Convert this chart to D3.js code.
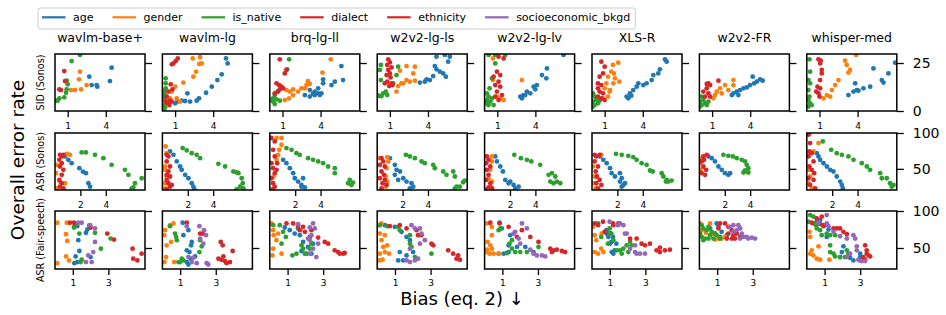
<!DOCTYPE html>
<meta charset="utf-8">
<script src="https://d3js.org/d3.v7.min.js"></script>
<style>
  body { margin: 0; background: #fff; }
  text { font-family: "DejaVu Sans", sans-serif; }
</style>
<div id="chart"></div>
<script>

// panel titles, row labels, legend
var models = ["wavlm-base+", "wavlm-lg", "brq-lg-ll", "w2v2-lg-ls", "w2v2-lg-lv", "XLS-R", "w2v2-FR", "whisper-med"];
var rowNames = ["SID (Sonos)", "ASR (Sonos)", "ASR (Fair-speech)"];
var legendKeys = ["age", "gender", "is_native", "dialect", "ethnicity", "socioeconomic_bkgd"];
var colors = {age: "#1f77b4", gender: "#ff7f0e", is_native: "#2ca02c", dialect: "#d62728", ethnicity: "#d62728", socioeconomic_bkgd: "#9467bd"};

// axis ticks / limits per row
var xTicks = [[1, 4], [2, 4], [1, 3]];
var yTicks = [[0, 25], [50, 100], [50, 100]];
var xMax = [7.09, 7.09, 5.06];
var yLims = [[0, 29.7], [20.5, 100], [21.6, 100]];

// ---- SID (Sonos): one list of [bias, error] per model ----
var sidAge = [
  [[4.46,22.6],[4.33,15.6],[2.7,17.9],[3.28,13.5],[3.33,12.7],[2.89,13.5]],
  [[5.01,27.4],[5.14,24.8],[4.67,19.1],[4.33,16.1],[3.89,12.7],[3.44,9.5],[2.89,6.6],[2.7,5.4],[1.97,9.2],[1.52,5.4],[1.79,5.2],[2.18,4.9],[1.0,4.0],[1.18,4.9]],
  [[3.15,10.9],[3.54,8.3],[3.81,9.2],[5.64,23.4],[5.77,16.1],[5.12,15.3],[4.86,13.5],[4.2,16.5],[4.2,14.4],[3.81,11.8],[3.54,10.1],[3.15,7.5],[3.94,8.3],[4.07,9.2],[2.76,8.3],[3.4,9.0]],
  [[5.72,28.3],[5.59,25.7],[5.33,29.2],[4.67,28.3],[4.54,23.4],[4.67,21.7],[4.41,18.2],[4.15,16.1],[3.75,15.3],[3.36,14.8],[3.89,16.5],[4.94,20.5],[5.2,19.6],[5.41,17.9]],
  [[4.91,22.2],[4.86,17.0],[4.52,18.7],[4.12,13.5],[3.99,11.3],[3.86,12.7],[3.33,10.1],[3.07,8.3],[2.81,7.5],[2.94,6.6],[3.2,8.3],[3.6,9.2],[6.22,29.2]],
  [[5.75,26.9],[5.88,25.7],[5.35,21.7],[5.22,19.6],[4.83,18.7],[4.7,16.1],[4.3,14.4],[4.04,13.5],[3.65,14.4],[3.52,12.7],[3.25,10.9],[2.99,9.2],[2.73,7.5],[2.86,6.6],[3.1,8.0]],
  [[4.2,17.9],[4.78,16.5],[4.99,15.8],[4.52,15.3],[4.31,14.4],[3.99,13.5],[3.73,12.3],[3.47,11.8],[3.2,10.9],[2.94,10.1],[2.68,9.2],[2.55,8.3],[3.07,8.3]],
  [[6.96,25.2],[6.43,19.6],[5.91,16.1],[6.04,14.8],[5.25,22.2],[4.99,12.7],[4.46,11.8],[3.94,10.9],[3.68,10.1],[3.28,8.3],[3.81,14.4],[4.07,10.6]]
];
var sidGender = [
  [[1.97,20.5],[1.89,16.5],[2.49,13.5],[2.05,11.3],[1.57,10.9],[1.26,10.9]],
  [[2.39,27.4],[2.97,28.0],[3.1,24.8],[2.91,24.5],[2.65,20.5],[2.44,17.9],[1.65,14.8],[1.0,12.7],[0.74,10.1],[1.13,6.6],[1.39,4.9],[0.6,6.6]],
  [[1.31,10.9],[1.58,10.1],[1.84,11.3],[2.23,10.1],[2.49,11.8],[2.89,13.5],[1.84,8.3],[1.52,6.6],[1.18,5.7],[2.76,11.8],[3.15,14.1],[4.15,20.0],[4.8,26.9],[3.0,15.5]],
  [[2.31,23.4],[1.79,21.0],[2.97,23.1],[2.84,19.6],[2.57,15.3],[2.31,16.1],[2.97,15.8],[1.92,14.4],[1.65,13.0],[1.52,10.1],[2.05,14.4]],
  [[0.66,27.4],[0.66,16.1],[0.97,7.5],[1.23,6.6],[1.5,5.7],[2.94,16.1]],
  [[1.65,24.0],[1.52,20.5],[1.26,17.9],[1.13,14.4],[1.0,11.8],[1.39,10.1],[1.26,7.5],[0.87,6.6],[2.07,25.2],[1.73,19.6],[1.81,17.0],[1.68,14.4],[2.15,15.3],[1.42,10.9]],
  [[2.68,16.1],[2.68,13.5],[2.02,13.5],[1.63,11.8],[1.37,10.1],[2.28,10.9],[1.76,9.2],[1.23,8.3],[1.1,6.6]],
  [[3.02,26.2],[3.15,24.0],[3.41,21.4],[3.28,20.0],[2.49,16.1],[2.23,13.5],[1.97,10.9],[1.58,8.3],[1.31,6.6],[1.84,7.5],[3.89,29.2]]
];
var sidNative = [
  [[1.97,29.2],[1.31,26.0],[0.92,15.8],[1.0,13.9],[0.92,11.3],[0.87,9.5],[0.73,7.1],[0.34,6.6],[0.21,5.4],[0.08,5.4]],
  [[0.26,17.0],[0.26,14.4],[0.26,11.8],[0.13,10.1],[0.21,8.3],[0.13,6.6],[0.26,5.4],[0.13,3.1],[0.21,1.9],[0.13,0.9]],
  [[1.52,26.9],[1.37,21.7],[0.6,10.1],[0.39,8.3],[0.26,6.6],[0.13,5.7],[0.26,4.9],[0.53,6.1],[0.79,5.4],[0.39,3.6]],
  [[0.29,24.0],[0.21,21.4],[0.29,16.1],[1.52,18.7],[1.65,23.1],[1.26,14.4],[0.68,10.1],[0.47,9.2],[0.21,7.8],[0.34,7.8],[0.79,8.3],[0.03,8.3]],
  [[0.31,29.2],[0.84,29.2],[1.63,29.2],[0.84,24.8],[0.58,17.0],[0.39,11.8],[0.18,9.2],[0.31,7.5],[0.18,5.7],[0.45,4.9],[0.31,3.1],[0.71,3.1],[0.58,6.6],[0.13,4.0]],
  [[0.08,9.2],[0.21,7.5],[0.34,5.7],[0.08,4.9],[0.21,3.1],[0.47,4.0],[0.08,2.3],[0.6,5.4]],
  [[0.18,7.5],[0.31,5.7],[0.05,4.9],[0.45,4.0],[0.18,3.1],[0.58,3.1],[0.05,2.3],[0.71,4.9]],
  [[0.21,26.9],[0.26,20.5],[0.13,16.1],[0.26,14.4],[0.13,10.9],[0.21,7.5],[0.13,5.7],[0.26,4.0],[0.39,3.1],[0.13,2.3]]
];
var sidDialect = [
  [[0.73,20.8],[0.79,15.6],[0.34,11.3],[0.47,10.9]],
  [[1.21,27.4],[1.05,26.0],[0.87,24.8],[0.74,24.3],[0.66,13.9],[0.79,11.3],[0.47,10.1],[0.34,7.5],[0.6,5.4],[0.26,4.9],[0.42,4.0],[0.55,3.1],[0.74,4.9]],
  [[0.79,26.9],[1.18,19.6],[1.31,21.4],[0.53,14.4],[0.74,13.5],[0.92,12.7],[0.79,11.3],[0.66,10.1],[1.05,11.8],[0.39,9.2]],
  [[0.87,26.9],[1.0,25.3],[0.79,24.0],[1.13,22.7],[0.87,21.4],[1.0,19.6],[0.74,18.7],[1.05,17.5],[0.79,15.3],[1.13,14.4],[0.6,14.4],[0.95,13.0],[1.21,13.5]],
  [[1.1,28.3],[1.5,27.4],[0.97,20.5],[1.23,18.7],[0.71,17.9],[1.1,15.3],[0.84,13.5],[1.23,12.7],[0.97,10.1],[1.37,8.3],[0.84,7.5],[1.1,5.7]],
  [[0.74,25.7],[1.0,23.1],[0.87,19.6],[0.6,17.9],[0.47,14.4],[0.74,13.5],[0.47,11.8],[0.6,10.1],[0.87,9.2],[0.47,7.5],[0.74,6.6],[1.0,5.7]],
  [[0.71,14.4],[0.84,13.5],[1.5,15.8],[0.58,11.8],[0.31,10.1],[0.71,9.2],[0.45,7.5],[0.84,7.5],[0.58,14.1]],
  [[0.92,26.9],[1.1,26.2],[1.05,24.8],[1.18,21.4],[1.18,19.6],[1.05,16.1],[0.84,12.7],[1.05,11.8],[0.74,10.1],[0.92,9.2],[1.0,7.5]]
];

// ---- ASR (Sonos) ----
var asrAge = [
  [[0.79,67.3],[1.05,62.6],[1.31,57.9],[1.92,50.9],[2.44,43.9],[2.63,29.9],[2.76,25.2],[2.2,46.0]],
  [[0.6,74.3],[0.87,69.6],[1.13,60.3],[1.39,53.3],[1.52,48.6],[1.79,41.6],[2.05,36.9],[2.31,29.9],[2.44,25.2],[2.52,21.5]],
  [[1.05,62.6],[1.31,57.9],[1.58,50.9],[1.84,43.9],[1.97,36.9],[2.23,32.3],[2.49,27.6],[2.76,24.3],[2.62,36.9],[2.49,25.2]],
  [[1.0,64.9],[1.39,55.6],[1.52,48.6],[1.79,46.3],[1.39,41.6],[1.65,34.6],[2.05,36.9],[2.31,32.3],[2.7,29.9],[2.84,25.2],[2.57,22.9]],
  [[0.84,67.3],[0.97,60.3],[1.23,53.3],[1.44,46.3],[1.63,34.6],[1.89,29.9],[2.28,27.6],[2.68,25.2],[2.42,22.9],[2.02,32.3]],
  [[0.63,67.3],[0.89,62.6],[1.16,57.9],[1.42,50.9],[1.55,43.9],[1.81,39.3],[2.2,43.9],[2.34,36.9],[2.2,32.3],[2.47,27.6],[2.34,25.2],[2.6,29.9]],
  [[0.71,67.3],[0.97,64.9],[1.23,60.3],[1.5,53.3],[1.76,48.6],[2.02,43.9],[2.28,41.6],[2.42,43.9]],
  [[0.79,71.9],[0.92,67.3],[1.05,62.6],[1.31,57.9],[1.58,53.3],[1.84,48.6],[2.1,46.3],[2.36,39.3],[2.63,32.3],[2.76,27.6],[2.84,22.9]]
];
var asrGender = [
  [[0.92,71.0],[1.18,69.6],[0.13,55.6],[0.08,43.9],[0.39,32.3],[0.79,29.9],[0.13,22.9]],
  [[0.26,81.3],[0.34,71.9],[0.21,53.3],[0.21,48.6],[0.34,39.3],[0.21,29.9],[0.21,22.9]],
  [[0.53,93.0],[0.92,93.0],[0.92,83.6],[0.74,76.6],[0.66,69.6],[0.53,62.6],[0.31,39.3]],
  [[0.79,66.3],[0.87,60.3],[0.74,50.9],[0.68,39.3],[0.79,32.3],[0.68,25.2],[0.21,64.9]],
  [[0.58,67.3],[0.58,60.3],[0.45,48.6],[0.31,36.9],[0.58,32.3],[0.5,25.2]],
  [[0.08,53.3],[0.21,39.3],[0.08,29.9],[0.29,22.9],[0.74,69.6]],
  [[0.05,57.9],[0.1,48.6],[0.05,63.5]],
  [[0.21,99.0],[0.92,86.0],[0.13,71.9],[0.53,74.3],[0.13,48.6],[0.26,39.3],[0.13,29.9],[0.39,22.9]]
];
var asrNative = [
  [[2.1,72.9],[2.44,72.9],[3.15,69.6],[3.81,64.9],[4.46,55.6],[5.51,48.6],[5.78,41.6],[6.3,29.9],[6.17,24.3],[6.04,22.9],[6.83,36.9]],
  [[1.6,79.0],[1.92,75.7],[2.31,71.9],[2.7,69.6],[2.97,64.9],[4.41,57.0],[4.94,53.3],[5.59,46.3],[5.85,44.9],[5.99,43.9],[6.25,36.9],[6.33,29.9],[6.12,25.2],[6.38,22.9],[5.85,21.5]],
  [[1.31,79.0],[1.71,76.6],[2.1,71.9],[2.36,69.6],[3.02,64.9],[3.41,62.6],[3.81,60.3],[4.2,57.9],[4.59,53.3],[5.12,50.9],[5.12,43.9],[6.3,34.6],[6.17,29.9],[6.56,30.9],[6.43,27.6]],
  [[2.26,69.6],[2.57,67.3],[2.97,64.9],[3.49,60.3],[3.75,57.9],[4.41,55.6],[4.54,50.9],[5.2,46.3],[5.46,41.6],[5.99,46.3],[6.12,39.3],[6.9,33.6],[6.77,31.3],[6.25,25.2],[6.12,22.9],[6.51,25.2]],
  [[2.34,69.6],[2.86,64.9],[3.33,62.6],[3.68,60.3],[4.38,55.6],[5.04,41.6],[5.3,43.9],[5.57,39.3],[5.17,32.3],[5.7,32.3],[5.96,29.9],[5.43,29.9]],
  [[1.89,71.0],[2.34,69.6],[2.86,68.2],[3.25,66.3],[3.52,62.6],[3.91,57.9],[4.3,55.6],[4.57,47.7],[4.78,46.3],[5.49,43.9],[5.62,39.3],[5.88,34.6],[6.01,32.3],[6.27,33.6],[5.83,32.3]],
  [[1.89,69.6],[2.28,68.2],[2.63,67.3],[2.94,64.9],[3.33,62.6],[3.6,60.3],[3.73,55.6],[3.86,50.9],[3.73,46.3],[3.47,44.9],[3.86,44.9],[3.6,48.0]],
  [[0.13,99.0],[1.26,88.3],[1.92,76.6],[2.36,71.9],[2.76,69.6],[3.28,67.3],[3.68,62.6],[4.33,57.9],[4.73,53.3],[4.99,48.6],[5.78,43.9],[5.91,36.9],[6.3,36.9],[6.56,29.9],[6.69,25.2],[6.83,27.6]]
];
var asrDialect = [
  [[0.39,69.6],[0.53,67.3],[0.66,69.6],[0.34,62.6],[0.53,57.9],[0.39,53.3],[0.66,48.6],[0.53,41.6],[0.34,34.6],[0.53,29.9],[0.39,25.2],[0.66,22.9]],
  [[0.34,69.6],[0.47,67.3],[0.34,60.3],[0.6,53.3],[0.47,46.3],[0.34,41.6],[0.6,39.3],[0.34,34.6],[0.47,29.9],[0.6,25.2],[0.34,21.5],[0.74,27.6]],
  [[0.13,93.0],[0.39,88.3],[0.26,76.6],[0.39,67.3],[0.13,57.9],[0.26,50.9],[0.39,43.9],[0.13,36.9],[0.26,29.9],[0.39,25.2],[0.21,21.5],[0.53,48.6],[0.58,57.9]],
  [[0.34,64.9],[0.47,60.3],[0.21,55.6],[0.6,53.3],[0.34,46.3],[0.53,41.6],[0.21,36.9],[0.6,34.6],[0.42,29.9],[0.74,27.6],[0.34,22.9]],
  [[0.18,67.3],[0.31,62.6],[0.13,57.9],[0.45,53.3],[0.18,48.6],[0.31,41.6],[0.13,34.6],[0.45,29.9],[0.31,24.3],[0.58,22.9],[0.18,21.5]],
  [[0.21,69.6],[0.34,67.3],[0.6,69.6],[0.21,60.3],[0.47,53.3],[0.29,46.3],[0.39,39.3],[0.6,34.6],[0.34,29.9],[0.74,27.6],[0.47,22.9]],
  [[0.31,67.3],[0.58,69.6],[0.18,60.3],[0.31,53.3],[0.53,48.6],[0.18,43.9],[0.45,41.6],[0.37,62.6]],
  [[0.13,97.6],[0.26,86.0],[0.21,74.3],[0.39,71.9],[0.13,67.3],[0.53,60.3],[0.21,53.3],[0.39,48.6],[0.58,43.9],[0.13,36.9],[0.53,34.6],[0.26,27.6],[0.66,22.9]]
];

// ---- ASR (Fair-speech) ----
var fsAge = [
  [[1.25,79.5],[1.31,60.5],[1.37,45.9],[1.16,38.6],[1.09,29.5],[1.25,30.9],[1.82,75.0],[2.0,37.7],[1.74,70.5]],
  [[1.14,84.1],[1.46,74.1],[1.65,58.2],[1.61,53.6],[1.52,44.5],[1.37,46.8],[1.59,35.5],[1.37,30.9],[1.46,27.7],[1.84,38.6],[1.18,67.3]],
  [[0.84,77.7],[1.12,74.1],[1.4,69.5],[1.69,67.3],[1.59,76.4],[2.34,42.3],[2.15,51.4],[2.43,55.9],[1.87,58.2],[2.06,42.3],[1.78,45.9]],
  [[0.43,80.9],[0.99,78.6],[1.37,71.8],[1.65,65.0],[1.27,44.5],[1.18,33.2],[1.46,33.2],[1.65,40.0],[2.02,44.5],[1.84,60.5]],
  [[0.84,84.1],[0.97,76.4],[1.44,67.3],[1.35,53.6],[1.07,42.3],[1.35,44.5],[1.82,51.4],[2.29,51.4],[2.75,44.5],[0.79,42.3]],
  [[0.81,74.1],[1.18,65.0],[1.09,58.2],[1.37,55.9],[1.27,46.8],[0.82,69.5],[0.92,65.0],[1.01,55.9],[1.11,44.5],[1.2,42.3]],
  [[0.97,83.2],[1.07,78.6],[0.88,69.5],[1.25,71.8],[1.54,67.3],[1.16,65.0],[0.6,76.4]],
  [[0.75,87.7],[0.56,85.5],[0.94,80.9],[1.22,75.0],[1.12,65.0],[2.06,52.3],[1.97,44.5],[2.43,36.8],[2.62,33.2],[3.0,37.7],[3.0,42.3],[1.87,37.7]]
];
var fsGender = [
  [[0.13,84.1],[0.66,84.1],[0.62,68.6],[0.69,59.5],[0.62,38.6],[0.79,33.2],[0.13,29.5]],
  [[0.15,74.1],[0.11,67.3],[0.43,80.9],[0.62,83.2],[0.49,58.2],[0.24,53.6],[0.21,37.7],[0.11,30.9],[0.66,30.9]],
  [[0.09,83.2],[0.19,74.1],[0.22,67.3],[0.47,69.5],[0.37,60.5],[0.19,49.1],[0.15,40.0],[0.66,42.3]],
  [[0.11,80.9],[0.24,83.2],[0.15,69.5],[0.43,67.3],[0.24,60.5],[0.56,53.6],[0.34,51.4],[0.15,42.3],[0.11,33.2],[0.3,34.1],[0.43,44.5],[0.67,42.3]],
  [[0.13,83.2],[0.41,78.6],[0.41,67.3],[0.17,58.2],[0.32,53.6],[0.41,49.1],[0.13,44.5],[0.28,42.3],[0.51,42.3],[0.79,42.3],[0.13,47.7]],
  [[0.06,78.6],[0.15,67.3],[0.24,60.5],[0.15,44.5],[0.34,42.3],[0.52,49.1],[0.54,69.5],[0.64,44.5]],
  [[0.04,83.2],[0.6,83.2],[0.37,70.5],[0.75,69.5],[1.07,62.7],[1.25,62.7],[1.44,65.0],[0.88,61.4],[0.13,74.1]],
  [[0.15,71.8],[0.19,65.0],[0.66,52.3],[0.28,46.8],[0.19,42.3],[0.37,40.0],[0.56,35.5],[0.75,34.1],[1.27,34.1]]
];
var fsNative = [
  [[1.12,80.9],[1.07,77.7],[1.37,69.5],[2.25,70.5],[3.13,62.7],[2.58,49.1],[1.5,34.1],[1.44,30.9]],
  [[0.43,79.5],[0.71,69.5],[0.77,65.0],[0.81,60.5],[1.09,35.5],[0.99,30.9],[1.18,33.2],[2.08,44.5],[2.21,52.3],[2.12,60.5],[0.9,30.9]],
  [[0.19,80.9],[0.56,80.9],[0.75,71.8],[0.9,65.0],[0.66,55.9],[1.27,40.0],[1.5,42.3],[1.87,49.1],[1.97,42.3],[1.78,53.6],[2.34,55.9],[2.25,49.1]],
  [[0.15,80.9],[0.56,79.5],[1.18,78.6],[1.27,74.1],[1.84,55.9],[1.93,51.4],[2.12,37.7],[2.21,35.5],[3.05,42.3],[1.84,67.3]],
  [[0.79,74.1],[0.88,76.4],[1.4,55.9],[1.54,49.1],[1.72,44.5],[2.0,44.5],[2.38,44.5],[3.03,51.4],[1.25,43.2],[1.54,60.5]],
  [[0.34,83.2],[0.99,76.4],[1.09,69.5],[0.52,65.0],[0.9,55.9],[1.01,70.5],[1.2,60.5],[1.39,46.8],[1.57,46.8],[1.76,49.1],[1.95,53.6],[2.14,58.2],[2.23,53.6],[2.04,44.5],[1.67,42.3]],
  [[0.13,80.9],[0.22,76.4],[0.41,74.1],[0.04,69.5],[0.13,65.0],[0.32,62.7],[0.51,62.7],[0.6,67.3],[0.69,71.8],[0.51,78.6],[0.79,62.7],[0.97,67.3],[0.88,69.5],[0.22,60.5],[1.16,62.7]],
  [[0.19,94.5],[0.37,92.3],[0.09,85.5],[0.37,83.2],[0.56,76.4],[0.75,74.1],[0.84,67.3],[1.31,67.3],[1.59,67.3],[1.31,53.6],[1.31,44.5],[1.5,42.3],[1.87,37.7],[1.59,38.6],[2.15,37.7],[2.34,42.3],[2.25,46.8],[1.12,69.5],[0.52,80.9]]
];
var fsEthnicity = [
  [[0.84,84.1],[1.07,84.1],[1.93,80.5],[2.0,77.7],[2.94,69.5],[3.32,61.4],[4.36,49.1],[4.4,35.5],[4.63,33.2],[4.87,42.3]],
  [[1.37,84.1],[2.12,69.5],[2.27,69.5],[3.28,58.2],[3.39,53.6],[3.95,45.9],[3.15,35.5],[3.33,34.1],[3.52,32.3],[3.61,29.5],[3.8,30.9],[3.43,38.6]],
  [[0.94,83.2],[1.31,83.2],[1.59,80.9],[1.87,78.6],[1.97,71.8],[1.69,74.1],[2.34,74.1],[2.25,65.0],[2.72,64.1],[3.09,58.2],[3.28,55.9],[3.65,46.8],[3.84,44.5],[3.93,42.3],[4.12,42.3],[4.21,43.2]],
  [[0.71,79.5],[1.27,80.9],[1.65,76.4],[2.21,74.1],[2.3,67.3],[2.49,67.3],[3.05,55.9],[3.15,53.6],[3.99,46.8],[4.27,42.3],[4.55,40.0],[4.46,35.5],[4.65,34.1]],
  [[0.32,84.1],[0.84,83.2],[1.35,78.6],[1.82,65.0],[2.1,74.1],[2.57,65.0],[3.03,58.2],[3.69,49.1],[3.88,46.8],[4.06,47.7],[4.35,45.9],[4.53,44.5],[3.78,44.5]],
  [[0.15,83.2],[0.34,80.9],[0.62,85.5],[0.71,71.8],[1.18,83.2],[1.2,80.9],[1.48,83.2],[2.14,62.7],[2.51,62.7],[2.79,55.9],[2.98,53.6],[3.26,55.9],[3.63,46.8],[3.82,44.5],[4.1,46.8],[4.38,47.7],[3.82,50.5]],
  [[1.16,83.2],[1.44,83.2],[1.07,76.4],[1.63,78.6],[1.82,74.1],[1.63,69.5],[1.91,67.3],[2.1,69.5],[1.54,62.7],[1.82,62.7],[2.0,62.7],[2.29,65.0]],
  [[0.56,90.0],[0.84,92.3],[0.28,84.1],[0.75,82.3],[0.94,79.5],[1.5,76.4],[1.69,76.4],[1.87,76.4],[2.06,71.8],[2.25,68.6],[3.28,53.6],[3.37,46.8],[3.37,42.3],[3.47,40.0],[3.18,37.7],[3.0,33.2],[3.28,34.1],[3.56,38.6]]
];
var fsSocio = [
  [[1.31,84.1],[1.5,84.1],[1.97,80.9],[2.25,76.4],[2.25,58.2],[1.87,40.0],[1.74,30.9],[2.06,30.9],[2.15,44.5]],
  [[1.37,79.5],[2.08,79.5],[2.34,74.1],[2.45,67.3],[2.12,62.7],[2.3,55.9],[1.65,30.9],[1.93,29.5],[2.49,29.5],[2.58,27.7],[1.46,37.7],[1.74,36.8]],
  [[1.59,82.3],[2.25,77.7],[2.43,83.2],[2.53,76.4],[2.34,67.3],[2.25,60.5],[2.25,42.3],[2.62,37.7],[2.72,55.9],[2.43,49.1],[2.15,62.7]],
  [[1.93,80.9],[2.12,76.4],[2.4,76.4],[2.49,69.5],[2.68,60.5],[2.4,55.9],[1.84,49.1],[1.65,33.2],[1.84,30.9],[2.12,33.2],[2.3,35.5]],
  [[2.1,83.2],[2.38,76.4],[1.63,69.5],[1.91,62.7],[2.0,55.9],[2.75,42.3],[2.94,40.0],[3.22,40.0],[3.41,38.6],[2.57,47.7],[1.72,71.8]],
  [[0.99,85.5],[1.46,80.9],[1.57,83.2],[1.76,80.9],[1.85,69.5],[1.95,69.5],[2.14,49.1],[2.42,44.5],[2.51,42.3],[2.7,42.3],[2.98,42.3],[2.42,53.6]],
  [[1.72,78.6],[1.91,80.9],[2.19,80.9],[2.29,76.4],[2.1,74.1],[2.38,69.5],[2.47,65.0],[2.66,65.0],[2.94,64.1],[3.13,62.7],[2.29,62.7],[2.75,62.7],[1.91,71.8]],
  [[1.12,94.5],[0.66,84.1],[1.12,83.2],[1.22,79.5],[1.5,71.8],[1.87,65.9],[2.25,62.7],[2.62,67.3],[2.72,62.7],[2.81,52.3],[2.81,46.8],[2.9,34.1],[3.09,32.3],[3.28,32.3],[2.43,42.3],[2.25,37.7]]
];

// series drawn in each row, in plotting order
var rowSeries = [
  [["age", sidAge], ["gender", sidGender], ["is_native", sidNative], ["dialect", sidDialect]],
  [["age", asrAge], ["gender", asrGender], ["is_native", asrNative], ["dialect", asrDialect]],
  [["age", fsAge], ["gender", fsGender], ["is_native", fsNative], ["ethnicity", fsEthnicity], ["socioeconomic_bkgd", fsSocio]]
];

// layout
var W = 946, H = 315;
var panelW = 90, colStep = 107.4, left0 = 55;
var rowTop = [54, 133, 211], rowH = [57, 57, 58];

var svg = d3.select("#chart").append("svg")
    .attr("width", W)
    .attr("height", H);

// clip rects, one per row
var defs = svg.append("defs");
rowTop.forEach(function(t, r) {
  defs.append("clipPath").attr("id", "clip" + r)
    .append("rect").attr("width", panelW).attr("height", rowH[r]);
});

rowSeries.forEach(function(series, r) {
  var x = d3.scaleLinear().domain([0, xMax[r]]).range([0, panelW]);
  var y = d3.scaleLinear().domain(yLims[r]).range([rowH[r], 0]);

  models.forEach(function(m, c) {
    var g = svg.append("g")
        .attr("transform", "translate(" + (left0 + c * colStep) + "," + rowTop[r] + ")");

    var pts = g.append("g").attr("clip-path", "url(#clip" + r + ")");
    series.forEach(function(s) {
      pts.selectAll(null)
        .data(s[1][c])
        .enter()
        .append("circle")
          .attr("cx", function(d) { return x(d[0]); })
          .attr("cy", function(d) { return y(d[1]); })
          .attr("r", 2.4)
          .style("fill", colors[s[0]]);
    });

    // bottom ticks
    var xa = g.append("g")
        .attr("transform", "translate(0," + rowH[r] + ")")
        .call(d3.axisBottom(x).tickValues(xTicks[r]).tickSize(6).tickPadding(r === 2 ? 5 : 6).tickFormat(d3.format("d")));
    xa.select(".domain").remove();
    xa.selectAll("line").attr("stroke-width", 1.3);
    xa.selectAll("text").attr("font-size", 9).attr("font-family", "DejaVu Sans");

    // right ticks (labels only on last column)
    var ya = g.append("g")
        .attr("transform", "translate(" + panelW + ",0)")
        .call(d3.axisRight(y).tickValues(yTicks[r]).tickSize(7).tickPadding(9)
          .tickFormat(c === models.length - 1 ? d3.format("d") : function() { return ""; }));
    ya.select(".domain").remove();
    ya.selectAll("line").attr("stroke-width", 1.3);
    ya.selectAll("text").attr("font-size", 14).attr("font-family", "DejaVu Sans");

    // frame
    g.append("rect")
      .attr("width", panelW)
      .attr("height", rowH[r])
      .attr("fill", "none")
      .attr("stroke", "black")
      .attr("stroke-width", 1.5);

    if (r === 0) {
      svg.append("text")
        .attr("x", left0 + c * colStep + panelW / 2)
        .attr("y", 42)
        .attr("text-anchor", "middle")
        .style("font-size", "12.5px")
        .text(m);
    }
  });

  // row label
  svg.append("text")
    .attr("transform", "translate(40," + (rowTop[r] + rowH[r] / 2) + ") rotate(-90)")
    .attr("text-anchor", "middle")
    .attr("dominant-baseline", "central")
    .style("font-size", "9.6px")
    .text(rowNames[r]);
});

// shared labels
svg.append("text")
  .attr("transform", "translate(17,160) rotate(-90)")
  .attr("text-anchor", "middle")
  .attr("dominant-baseline", "central")
  .style("font-size", "18.5px")
  .text("Overall error rate");

svg.append("text")
  .attr("x", 462)
  .attr("y", 305)
  .attr("text-anchor", "middle")
  .style("font-size", "18px")
  .text("Bias (eq. 2) \u2193");

// legend
var leg = svg.append("g");
var box = leg.append("rect")
  .attr("x", 38).attr("y", 8).attr("height", 21).attr("rx", 2.5)
  .attr("fill", "white").attr("stroke", "#cccccc").attr("stroke-width", 1);
var lx = 42;
legendKeys.forEach(function(k) {
  leg.append("line")
    .attr("x1", lx).attr("x2", lx + 23.5)
    .attr("y1", 17.3).attr("y2", 17.3)
    .attr("stroke", colors[k]).attr("stroke-width", 2.2);
  var t = leg.append("text")
    .attr("x", lx + 31).attr("y", 21.3)
    .style("font-size", "11px")
    .text(k);
  lx = lx + 31 + t.node().getComputedTextLength() + 19;
});
box.attr("width", lx - 19 + 5 - 38);

</script>
